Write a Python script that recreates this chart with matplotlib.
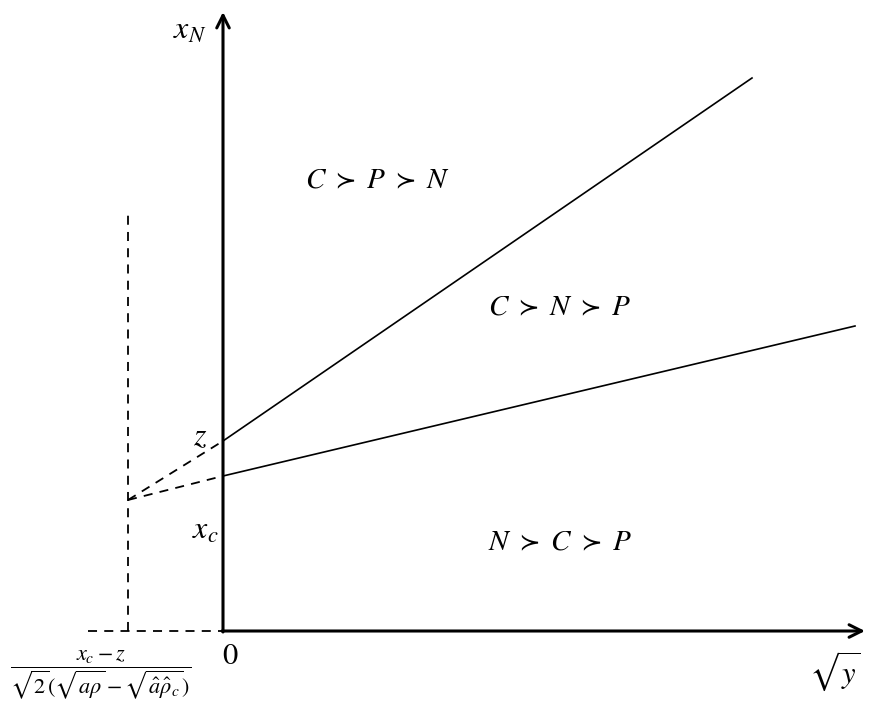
import matplotlib.pyplot as plt

plt.rcParams['mathtext.fontset'] = 'stix'

# intercepts on the x_N axis and the point where the two boundaries meet
z = 1.90
x_c = 1.55
meet_x, meet_y = -0.95, 1.31

# far ends of the two boundary lines
upper_end = (5.29, 5.53)
lower_end = (6.32, 3.05)

# axis extents
x_max = 6.42
y_max = 6.19
dash_left = -1.35
dash_top = 4.16

region_labels = [r'$C\ \succ\ P\ \succ\ N$', r'$C\ \succ\ N\ \succ\ P$', r'$N\ \succ\ C\ \succ\ P$']
region_pos = [(1.55, 4.51), (3.37, 3.24), (3.37, 0.89)]

fig = plt.figure(figsize=(8.76, 7.08), dpi=100)
ax = fig.add_axes([0, 0, 1, 1])
ax.set_xlim(-2.23, 6.53)
ax.set_ylim(-0.77, 6.31)
ax.axis('off')

# axes with open arrow heads
arrow = dict(arrowstyle='->,head_length=0.9,head_width=0.45', lw=2.2, color='black',
             shrinkA=0, shrinkB=0)
ax.annotate('', xy=(x_max, 0), xytext=(-0.01, 0), arrowprops=arrow)
ax.annotate('', xy=(0, y_max), xytext=(0, -0.01), arrowprops=arrow)

# boundaries
ax.plot([0, upper_end[0]], [z, upper_end[1]], color='black', lw=1.2)
ax.plot([0, lower_end[0]], [x_c, lower_end[1]], color='black', lw=1.2)

# extensions back to the meeting point
dash = dict(color='black', lw=1.3, ls=(0, (5, 4)))
ax.plot([meet_x, 0], [meet_y, z], **dash)
ax.plot([meet_x, 0], [meet_y, x_c], **dash)
ax.plot([meet_x, meet_x], [0, dash_top], **dash)
ax.plot([dash_left, 0], [0, 0], **dash)

for lab, (px, py) in zip(region_labels, region_pos):
    ax.text(px, py, lab, fontsize=21, ha='center', va='center')

ax.text(-0.23, 1.94, r'$z$', fontsize=23, ha='center', va='center')
ax.text(-0.18, 1.01, r'$x_c$', fontsize=23, ha='center', va='center')
ax.text(-0.33, 6.01, r'$x_N$', fontsize=23, ha='center', va='center')
ax.text(0.07, -0.25, r'$0$', fontsize=22, ha='center', va='center')
ax.text(6.12, -0.40, r'$\sqrt{y}$', fontsize=22, ha='center', va='center')
ax.text(-1.22, -0.44,
        r'$\dfrac{x_c - z}{\sqrt{2}(\sqrt{a\rho} - \sqrt{\hat{a}\hat{\rho}_c})}$',
        fontsize=16, ha='center', va='center')

fig.savefig('out.png', dpi=100)
